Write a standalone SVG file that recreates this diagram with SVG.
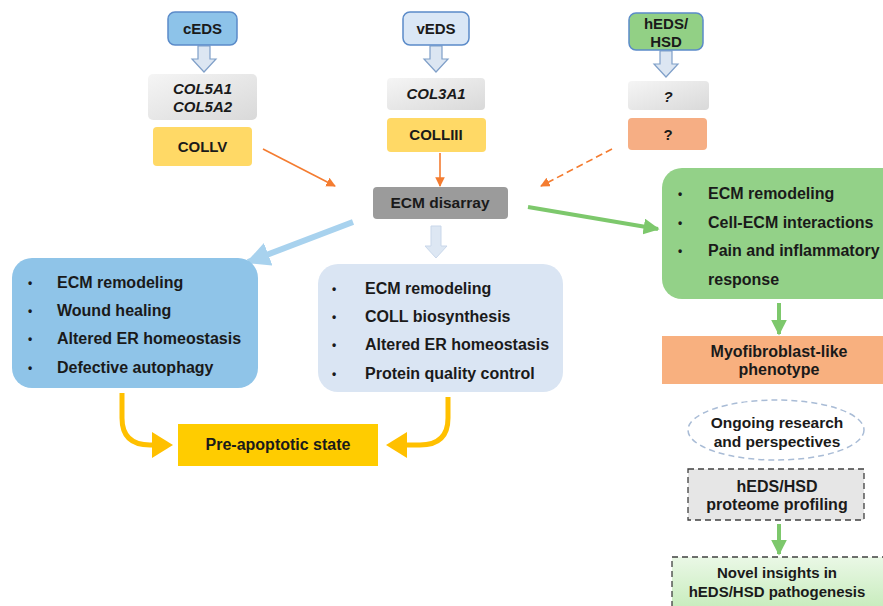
<svg xmlns="http://www.w3.org/2000/svg" width="883" height="606" viewBox="0 0 883 606">
<style>
text{font-family:"Liberation Sans",Arial,sans-serif;font-weight:bold;font-size:15px;fill:#1a1a1a}
.c{text-anchor:middle}
.i{font-style:italic}
.l{font-size:16px}
.b{font-size:12px}
.hollow{fill:#DCE6F2;stroke:#7F9FC8;stroke-width:1.2}
.org{stroke:#F47C30;stroke-width:1.6;fill:none}
.grn{stroke:#7DC86C;fill:none}
.yel{stroke:#FFC000;stroke-width:5;fill:none}
</style>
<defs>
<linearGradient id="gray" x1="0" y1="0" x2="1" y2="1">
<stop offset="0" stop-color="#F5F5F5"/><stop offset="1" stop-color="#D9D9D9"/>
</linearGradient>
<linearGradient id="novel" x1="0" y1="0" x2="0" y2="1">
<stop offset="0" stop-color="#EAF8E6"/><stop offset="1" stop-color="#C2EAB6"/>
</linearGradient>
<marker id="ah-o" viewBox="0 0 10 10" refX="9" refY="5" markerWidth="6" markerHeight="6" orient="auto" markerUnits="strokeWidth"><path d="M0,0 L10,5 L0,10 z" fill="#F47C30"/></marker>
<marker id="ah-g" viewBox="0 0 10 10" refX="9" refY="5" markerWidth="4" markerHeight="4" orient="auto" markerUnits="strokeWidth"><path d="M0,0 L10,5 L0,10 z" fill="#7DC86C"/></marker>
<marker id="ah-b" viewBox="0 0 10 10" refX="9" refY="5" markerWidth="4" markerHeight="4" orient="auto" markerUnits="strokeWidth"><path d="M0,0 L10,5 L0,10 z" fill="#A8D2EE"/></marker>
</defs>

<g id="connectors">
<polygon class="hollow" points="198,46 210,46 210,59 216,59 204,72 192,59 198,59"/>
<polygon class="hollow" points="430,46 442,46 442,59 448,59 436,72 424,59 430,59"/>
<polygon class="hollow" points="660,51 672,51 672,64 678,64 666,77 654,64 660,64"/>
<line class="org" x1="263" y1="149" x2="335" y2="186" marker-end="url(#ah-o)"/>
<line class="org" x1="440" y1="153" x2="440" y2="186" marker-end="url(#ah-o)"/>
<line class="org" x1="612" y1="149" x2="541" y2="186" stroke-dasharray="7,4" marker-end="url(#ah-o)"/>
<line class="grn" x1="528" y1="207" x2="658" y2="229" stroke-width="4" marker-end="url(#ah-g)"/>
<line x1="353" y1="222" x2="248" y2="262" stroke="#A8D2EE" stroke-width="6" marker-end="url(#ah-b)"/>
<polygon points="431,226 441,226 441,246 447,246 436,258 425,246 431,246" fill="#DDE7F3" stroke="#C9D7EA" stroke-width="1"/>
<line class="grn" x1="779" y1="303" x2="779" y2="334" stroke-width="4" marker-end="url(#ah-g)"/>
<line class="grn" x1="779" y1="524" x2="779" y2="554" stroke-width="4" marker-end="url(#ah-g)"/>
<path class="yel" d="M122,393 L122,418 Q122,445 150,445 L156,445"/>
<polygon points="152,432 173,445 152,458" fill="#FFC000"/>
<path class="yel" d="M448,397 L448,418 Q448,445 420,445 L404,445"/>
<polygon points="407,432 386,445 407,458" fill="#FFC000"/>
</g>

<g id="cEDS"><rect x="168" y="12" width="69" height="33" rx="7" fill="#8DC3E9" stroke="#5B8BC9" stroke-width="1.5"/><text class="c" x="202.5" y="34">cEDS</text></g>
<g id="COL5A"><rect x="148" y="74" width="109" height="46" rx="5" fill="url(#gray)"/><text class="c i" x="202.5" y="94">COL5A1</text><text class="c i" x="202.5" y="112">COL5A2</text></g>
<g id="COLLV"><rect x="153" y="127" width="99" height="39" rx="4" fill="#FFD966"/><text class="c" x="202.5" y="152">COLLV</text></g>

<g id="vEDS"><rect x="403" y="12" width="66" height="33" rx="7" fill="#DAE7F6" stroke="#5B8BC9" stroke-width="1.5"/><text class="c" x="436" y="34">vEDS</text></g>
<g id="COL3A1"><rect x="387" y="78" width="98" height="32" rx="4" fill="url(#gray)"/><text class="c i" x="436" y="99">COL3A1</text></g>
<g id="COLLIII"><rect x="387" y="118" width="99" height="34" rx="4" fill="#FFD966"/><text class="c" x="436" y="140">COLLIII</text></g>

<g id="hEDS"><rect x="629" y="13" width="74" height="37" rx="7" fill="#92D085" stroke="#5B8BC9" stroke-width="1.5"/><text class="c" x="666" y="29">hEDS/</text><text class="c" x="666" y="47">HSD</text></g>
<g id="q1"><rect x="628" y="81" width="81" height="29" rx="4" fill="url(#gray)"/><text class="c i" x="668" y="102">?</text></g>
<g id="q2"><rect x="628" y="118" width="79" height="32" rx="4" fill="#F6AE84"/><text class="c" x="668" y="140">?</text></g>

<g id="ECMdisarray"><rect x="373" y="187" width="135" height="32" rx="4" fill="#9B9B9B"/><text class="c" x="440" y="208" style="font-size:15.5px">ECM disarray</text></g>

<g id="green"><rect x="662" y="168" width="240" height="131" rx="20" fill="#93D188"/>
<text class="b" x="678" y="198">•</text><text class="l" x="708" y="199">ECM remodeling</text>
<text class="b" x="678" y="227">•</text><text class="l" x="708" y="228">Cell-ECM interactions</text>
<text class="b" x="678" y="255">•</text><text class="l" x="708" y="256">Pain and inflammatory</text>
<text class="l" x="708" y="285">response</text></g>

<g id="cEDSbox"><rect x="12" y="258" width="246" height="130" rx="20" fill="#8FC4E8"/>
<text class="b" x="28" y="287">•</text><text class="l" x="57" y="288">ECM remodeling</text>
<text class="b" x="28" y="315">•</text><text class="l" x="57" y="316">Wound healing</text>
<text class="b" x="28" y="343">•</text><text class="l" x="57" y="344">Altered ER homeostasis</text>
<text class="b" x="28" y="372">•</text><text class="l" x="57" y="373">Defective autophagy</text></g>

<g id="vEDSbox"><rect x="318" y="264" width="245" height="128" rx="20" fill="#DAE5F3"/>
<text class="b" x="332" y="293">•</text><text class="l" x="365" y="294">ECM remodeling</text>
<text class="b" x="332" y="321">•</text><text class="l" x="365" y="322">COLL biosynthesis</text>
<text class="b" x="332" y="349">•</text><text class="l" x="365" y="350">Altered ER homeostasis</text>
<text class="b" x="332" y="378">•</text><text class="l" x="365" y="379">Protein quality control</text></g>

<g id="preapoptotic"><rect x="178" y="424" width="200" height="42" fill="#FFCC00"/><text class="c l" x="278" y="450">Pre-apoptotic state</text></g>

<g id="myofibroblast"><rect x="662" y="336" width="230" height="48" fill="#F8B07F"/><text class="c l" x="779" y="357">Myofibroblast-like</text><text class="c l" x="779" y="375">phenotype</text></g>

<g id="ongoing"><ellipse cx="776" cy="430" rx="88" ry="30" fill="#fff" stroke="#A9BCD6" stroke-width="1.5" stroke-dasharray="6,4"/><text class="c" x="777" y="428" style="font-size:15.5px">Ongoing research</text><text class="c" x="777" y="447" style="font-size:15.5px">and perspectives</text></g>

<g id="proteome"><rect x="688" y="469" width="176" height="51" fill="#E6E6E6" stroke="#404040" stroke-width="1.3" stroke-dasharray="6,4"/><text class="c l" x="777" y="492">hEDS/HSD</text><text class="c l" x="777" y="510">proteome profiling</text></g>

<g id="novel"><rect x="672" y="557" width="220" height="60" fill="url(#novel)" stroke="#404040" stroke-width="1.3" stroke-dasharray="6,4"/><text class="c" x="777" y="578">Novel insights in</text><text class="c" x="777" y="597">hEDS/HSD pathogenesis</text></g>
</svg>
